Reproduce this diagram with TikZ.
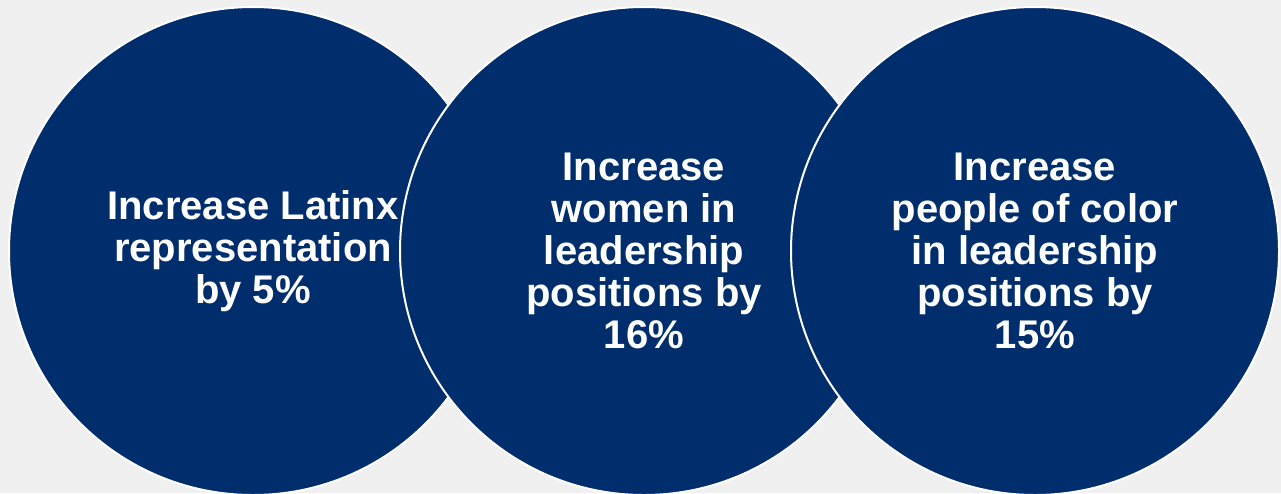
\documentclass[tikz,border=0pt]{standalone}
\usepackage{fontspec}
\setmainfont{Liberation Sans}
\definecolor{navy}{HTML}{002E6C}
\definecolor{bg}{HTML}{F0F0F0}
\begin{document}
\begin{tikzpicture}[x=1pt,y=-1pt,
  bubble/.style={circle,fill=navy,draw=white,line width=2pt,minimum size=488pt,inner sep=0pt},
  label/.style={text=white,font=\bfseries\fontsize{40}{42}\selectfont,align=center}]
\fill[bg] (0,0) rectangle (1281,493);
\useasboundingbox (0,0) rectangle (1281,493);
\node[bubble] (c1) at (253,251) {};
\node[bubble] (c2) at (644,251) {};
\node[bubble] (c3) at (1035,251) {};
\node[label] (t1) at (c1.center) {Increase Latinx\\representation\\by 5\%};
\node[label] (t2) at (c2.center) {Increase\\women in\\leadership\\positions by\\16\%};
\node[label] (t3) at (c3.center) {Increase\\people of color\\in leadership\\positions by\\15\%};
\end{tikzpicture}
\end{document}
